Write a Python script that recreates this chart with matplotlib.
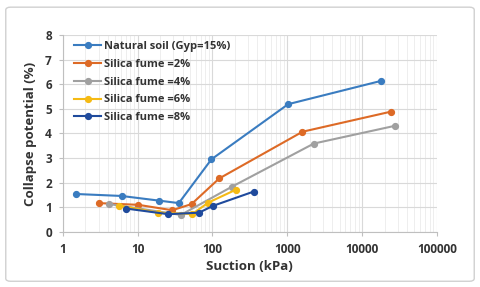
import matplotlib
matplotlib.use('Agg')
import matplotlib.pyplot as plt
from matplotlib.patches import FancyBboxPatch
from matplotlib.ticker import FixedLocator, NullFormatter, FixedFormatter

plt.rcParams['font.family'] = ['Open Sans', 'DejaVu Sans']
plt.rcParams['font.weight'] = 'bold'

labels = ['Natural soil (Gyp=15%)', 'Silica fume =2%', 'Silica fume =4%',
          'Silica fume =6%', 'Silica fume =8%']
colors = ['#3A7CC0', '#DD6A26', '#A0A0A0', '#F5BA14', '#1F4A9C']

x_nat = [1.5, 6.1, 19.4, 35.5, 97, 1030, 18200]
y_nat = [1.54, 1.46, 1.27, 1.17, 2.95, 5.19, 6.14]
x_sf2 = [3.0, 10.2, 29, 52.5, 123, 1600, 24700]
y_sf2 = [1.17, 1.10, 0.88, 1.13, 2.17, 4.07, 4.89]
x_sf4 = [4.2, 37.8, 183, 2270, 27500]
y_sf4 = [1.13, 0.69, 1.84, 3.59, 4.31]
x_sf6 = [5.7, 18.8, 54, 88, 204]
y_sf6 = [1.07, 0.78, 0.73, 1.19, 1.71]
x_sf8 = [6.95, 25.6, 66, 102, 357]
y_sf8 = [0.95, 0.72, 0.78, 1.06, 1.64]

xs = [x_nat, x_sf2, x_sf4, x_sf6, x_sf8]
ys = [y_nat, y_sf2, y_sf4, y_sf6, y_sf8]

fig = plt.figure(figsize=(4.8, 2.87), dpi=100)
border = FancyBboxPatch((0.012, 0.02), 0.976, 0.955, boxstyle='round,pad=0,rounding_size=0.01',
                        transform=fig.transFigure, fc='none', ec='#D0D0D0', lw=1.0, zorder=10)
fig.patches.append(border)
ax = fig.add_axes([0.131, 0.192, 0.779, 0.686])

for x, y, c, lab in zip(xs, ys, colors, labels):
    ax.plot(x, y, '-o', color=c, lw=1.5, ms=4.2, label=lab, zorder=3)

ax.set_xscale('log')
ax.set_xlim(1, 100000)
ax.set_ylim(0, 8)
ax.set_yticks(range(0, 9))
ax.xaxis.set_major_locator(FixedLocator([1, 10, 100, 1000, 10000, 100000]))
ax.xaxis.set_major_formatter(FixedFormatter(['1', '10', '100', '1000', '10000', '100000']))
ax.xaxis.set_minor_formatter(NullFormatter())
ax.grid(True, which='major', color='#D9D9D9', lw=0.8)
ax.grid(True, which='minor', axis='x', color='#EBEBEB', lw=0.6)
ax.set_axisbelow(True)
for s in ['top', 'right']:
    ax.spines[s].set_visible(False)
for s in ['left', 'bottom']:
    ax.spines[s].set_color('#BFBFBF')
ax.tick_params(which='both', length=3, color='#BFBFBF', labelsize=8.5, pad=5)
ax.tick_params(which='minor', length=0)
ax.set_xlabel('Suction (kPa)', fontsize=9.5, fontweight='bold', color='#333333', labelpad=3)
ax.set_ylabel('Collapse potential (%)', fontsize=9.5, fontweight='bold', color='#333333', labelpad=6)
for t in ax.get_xticklabels() + ax.get_yticklabels():
    t.set_fontweight('bold')
    t.set_color('#333333')

leg = ax.legend(loc='upper left', bbox_to_anchor=(0.01, 1.01), frameon=False, fontsize=8,
                handlelength=2.4, labelspacing=0.62, borderaxespad=0.3, handletextpad=0.3)
for t in leg.get_texts():
    t.set_color('#333333')

fig.savefig('out.png', dpi=100)
